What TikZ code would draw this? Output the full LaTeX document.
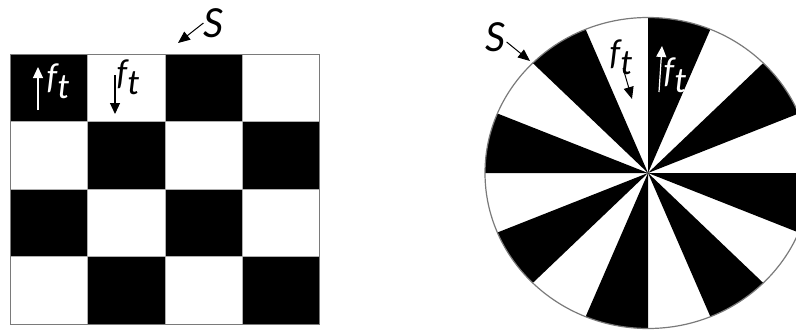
\documentclass[tikz,border=0pt]{standalone}
\usepackage{fontspec}
\setmainfont{Lato}
\usetikzlibrary{arrows.meta}
\definecolor{Rim}{HTML}{7A7A7A}
\definecolor{Seam}{HTML}{B0B0B0}
\tikzset{
  slabel/.style={font=\fontsize{20}{20}\selectfont\itshape,inner sep=0pt},
  flabel/.style={font=\fontsize{17}{17}\selectfont\itshape,inner sep=0pt},
  pointer/.style={-{Triangle[length=6pt,width=5pt]},line width=0.5pt},
  flow/.style={-{Triangle[length=5.5pt,width=5pt]},line width=0.6pt}
}
\newcommand{\ft}{f\kern0.2pt\raisebox{-0.6ex}{t}}

\begin{document}
\begin{tikzpicture}[x=0.5pt,y=0.5pt]
  \useasboundingbox (0,0) rectangle (796,333);
  \clip (0,0) rectangle (796,333);

  % checkerboard
  \foreach \i in {0,...,3}{
    \foreach \j in {0,...,3}{
      \pgfmathtruncatemacro{\p}{mod(\i+\j,2)}
      \ifnum\p=0
        \fill[black] (10.5+77.25*\i,279-67.5*\j) rectangle ++(77.25,-67.5);
      \fi
    }
  }
  \foreach \i in {1,2,3}{
    \draw[Seam,line width=0.4pt] (10.5+77.25*\i,279) -- (10.5+77.25*\i,9);
    \draw[Seam,line width=0.4pt] (10.5,279-67.5*\i) -- (319.5,279-67.5*\i);
  }
  \draw[Rim,line width=0.5pt] (10.5,9) rectangle (319.5,279);

  % wheel
  \begin{scope}[shift={(648,160)}]
    \foreach \a in {90,45,...,-225}{
      \fill[black] (0,0) -- (\a:163 and 155.5)
        arc[start angle=\a,end angle=\a-22.5,x radius=163,y radius=155.5] -- cycle;
    }
    \draw[Rim,line width=0.6pt] (0,0) ellipse [x radius=163,y radius=155.5];
  \end{scope}

  % labels and arrows, board
  \node[slabel] (sL) at (214,310) {S};
  \coordinate (sLtip) at (178,290);
  \draw[pointer] (sL.west) -- (sLtip);

  \node[flabel,text=white] (fA) at (58,252) {\ft};
  \coordinate (a1) at (38,223);
  \coordinate (a2) at (38,266);
  \draw[flow,white] (a1) -- (a2);

  \node[flabel] (fB) at (128,256) {\ft};
  \coordinate (b1) at (115,258);
  \coordinate (b2) at (115,219);
  \draw[flow] (b1) -- (b2);

  % labels and arrows, wheel
  \node[slabel] (sR) at (496,296) {S};
  \coordinate (sRtip) at (530,272);
  \draw[pointer] (sR.-25) -- (sRtip);

  \node[flabel] (fC) at (621,276) {\ft};
  \coordinate (c1) at (623,265);
  \coordinate (c2) at (632,234);
  \draw[pointer] (c1) -- (c2);

  \node[flabel,text=white] (fD) at (675,258) {\ft};
  \coordinate (d1) at (659,241);
  \coordinate (d2) at (662,287);
  \draw[flow,white] (d1) -- (d2);
\end{tikzpicture}
\end{document}
